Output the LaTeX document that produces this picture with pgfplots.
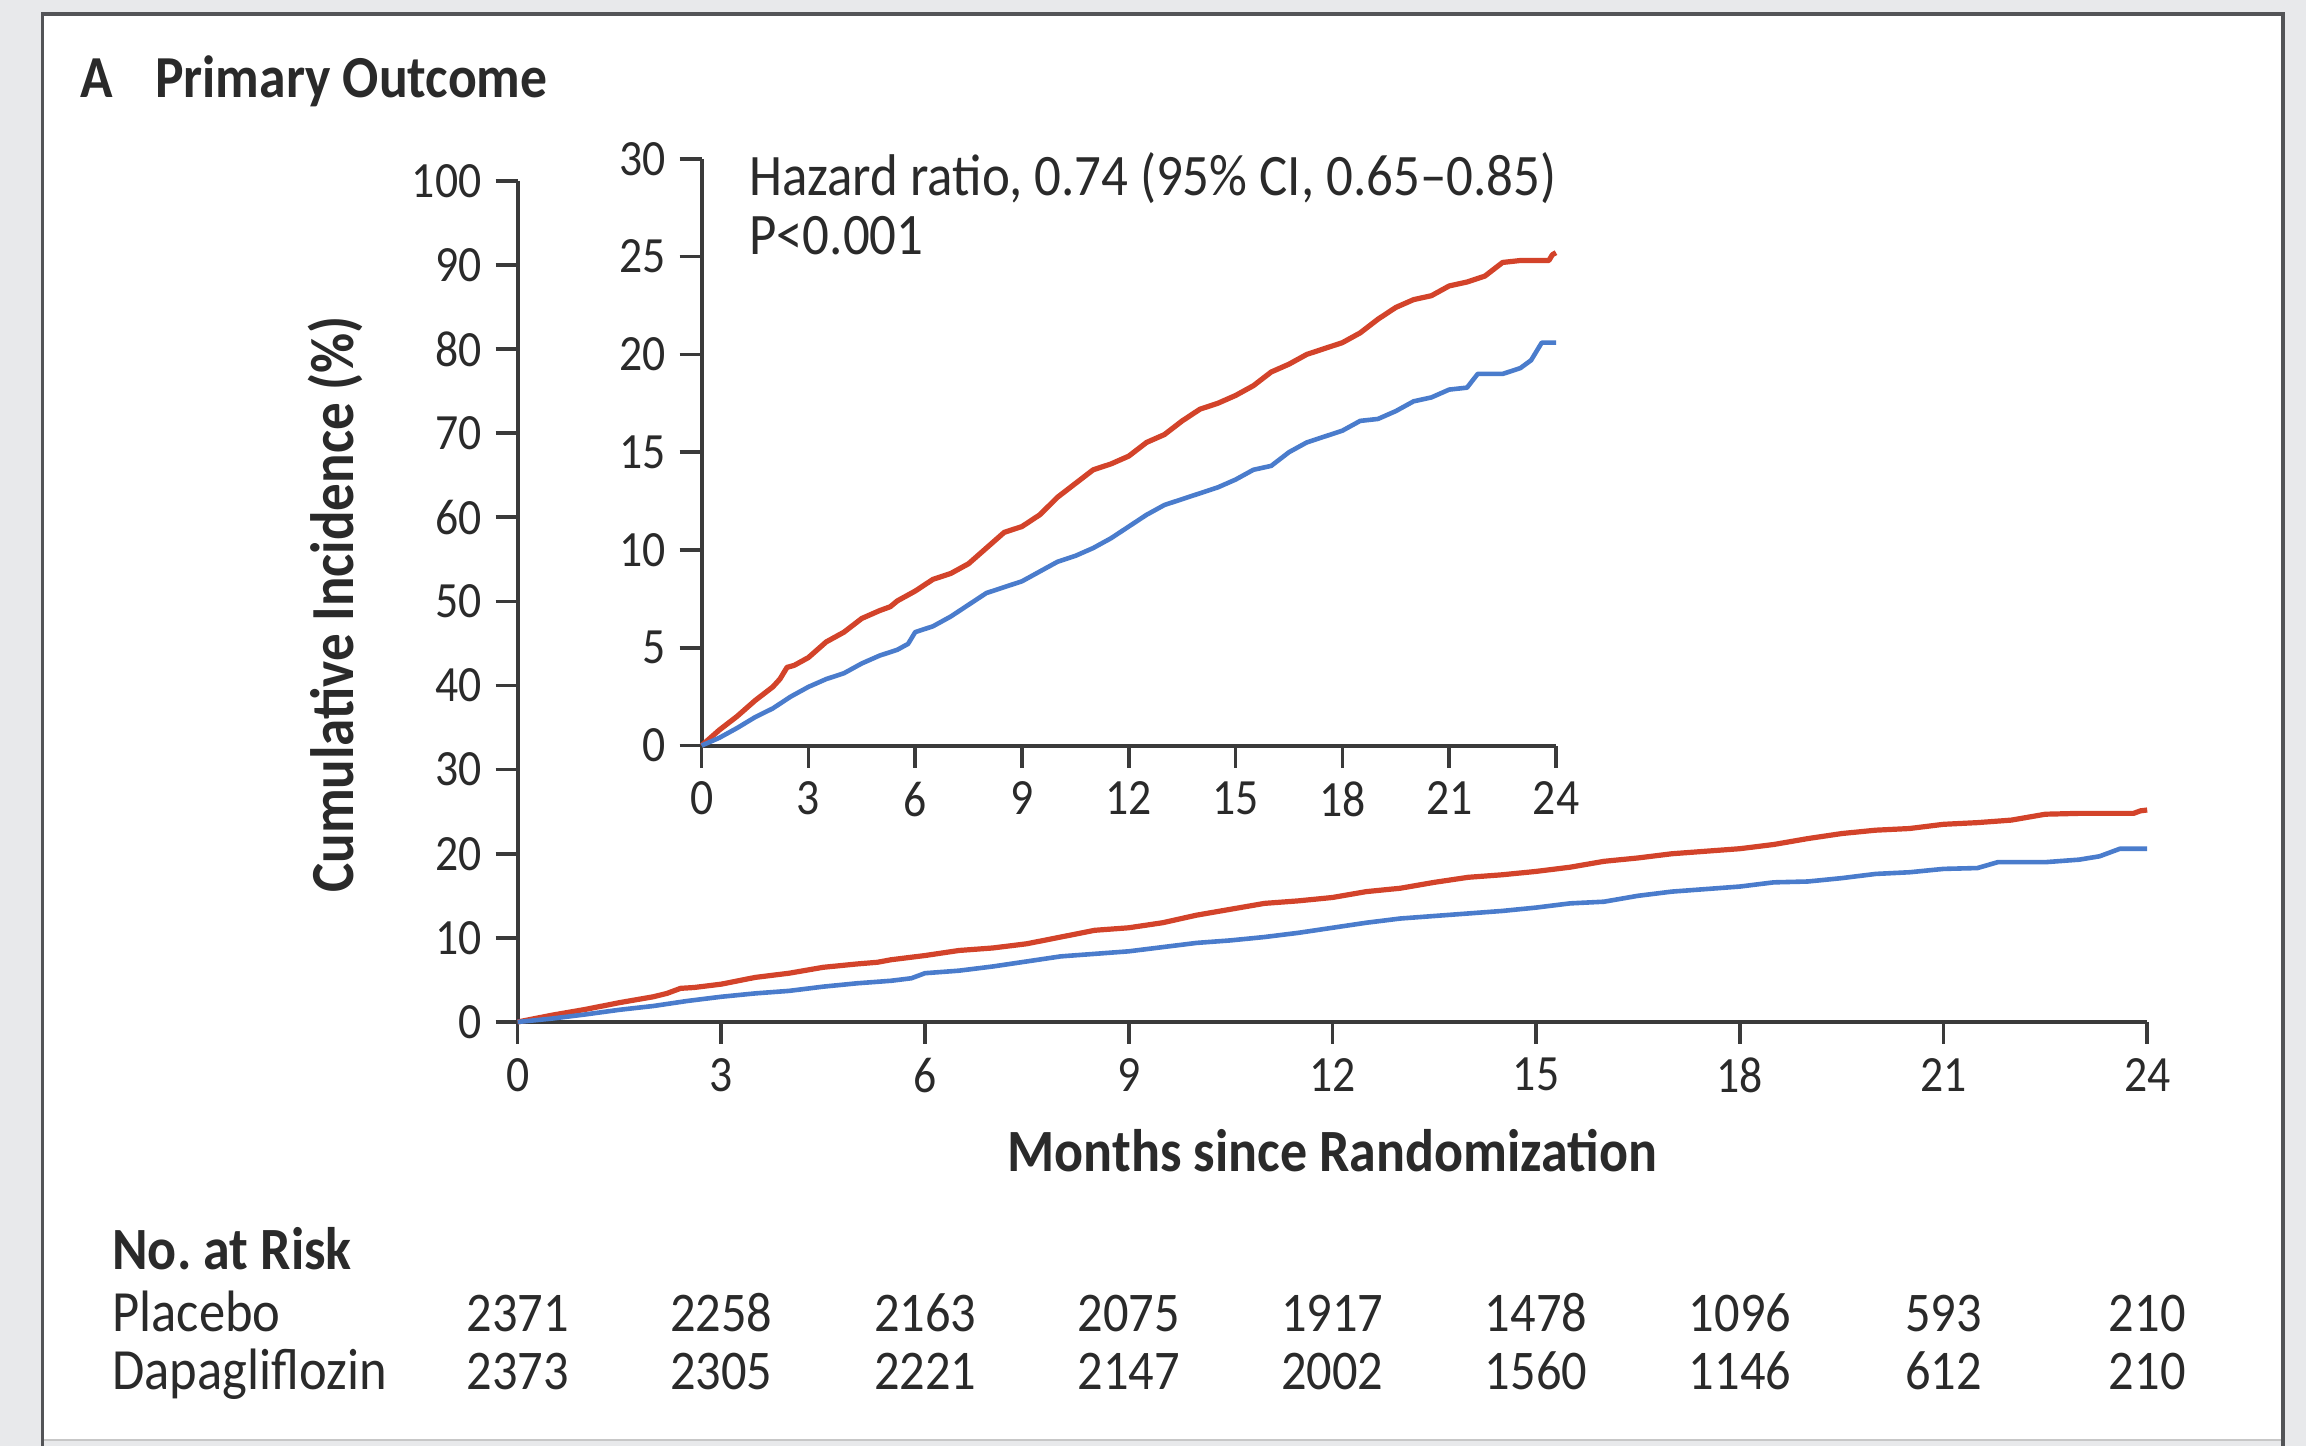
\documentclass[border=0pt]{standalone}
\usepackage{fontspec}
\setmainfont{Carlito}[FakeStretch=0.9]
\usepackage{pgfplots}
\usepackage{pgfplotstable}
\pgfplotsset{compat=1.18}
\definecolor{bgc}{HTML}{E8E9EB}
\definecolor{framec}{HTML}{535457}
\definecolor{axc}{HTML}{3A3A3A}
\definecolor{redc}{HTML}{D3432A}
\definecolor{bluec}{HTML}{4A7CCC}
\definecolor{txt}{HTML}{2A2A2A}

\pgfplotstableread{
m v
0 0
0.5 0.8
1 1.5
1.5 2.3
2 3.0
2.2 3.4
2.4 4.0
2.6 4.1
3 4.5
3.5 5.3
4 5.8
4.5 6.5
5 6.9
5.3 7.1
5.5 7.4
6 7.9
6.5 8.5
7 8.8
7.5 9.3
8 10.1
8.5 10.9
9 11.2
9.5 11.8
10 12.7
10.5 13.4
11 14.1
11.5 14.4
12 14.8
12.5 15.5
13 15.9
13.5 16.6
14 17.2
14.5 17.5
15 17.9
15.5 18.4
16 19.1
16.5 19.5
17 20.0
17.5 20.3
18 20.6
18.5 21.1
19 21.8
19.5 22.4
20 22.8
20.5 23.0
21 23.5
21.5 23.7
22 24.0
22.5 24.7
23 24.8
23.8 24.8
23.9 25.1
24 25.2
}\placebo

\pgfplotstableread{
m v
0 0
0.5 0.4
1 0.9
1.5 1.45
2 1.9
2.5 2.5
3 3.0
3.5 3.4
4 3.7
4.5 4.2
5 4.6
5.5 4.9
5.8 5.2
6 5.8
6.5 6.1
7 6.6
7.5 7.2
8 7.8
8.5 8.1
9 8.4
9.5 8.9
10 9.4
10.5 9.7
11 10.1
11.5 10.6
12 11.2
12.5 11.8
13 12.3
13.5 12.6
14 12.9
14.5 13.2
15 13.6
15.5 14.1
16 14.3
16.5 15.0
17 15.5
17.5 15.8
18 16.1
18.5 16.6
19 16.7
19.5 17.1
20 17.6
20.5 17.8
21 18.2
21.5 18.3
21.8 19.0
22.5 19.0
23 19.3
23.3 19.7
23.6 20.6
24 20.6
}\dapa

\pgfplotsset{
  kmaxis/.style={
    scale only axis,
    axis x line*=bottom, axis y line*=left,
    axis line style={axc, line width=1pt},
    tick align=outside,
    major tick length=5.5pt,
    tick style={axc, line width=0.9pt},
    ticklabel style={font=\fontsize{12.7}{14}\selectfont, text=txt},
    /pgf/number format/assume math mode=true,
    xmin=0, xmax=24, xtick={0,3,6,9,12,15,18,21,24},
    clip=false,
  },
  redline/.style={redc, line width=1.3pt, line join=round},
  blueline/.style={bluec, line width=1.15pt, line join=round},
}

\begin{document}
\begin{tikzpicture}[x=1pt,y=1pt]
\useasboundingbox (0,0) rectangle (576.5,361.5);
\fill[bgc] (0,0) rectangle (576.5,361.5);
\fill[white] (10.6,1.5) rectangle (570.8,358);
\draw[black!22, line width=0.6pt] (10.6,1.5) -- (570.8,1.5);
\draw[framec, line width=0.9pt] (10.6,0) -- (10.6,358) -- (570.8,358) -- (570.8,0);

% title
\node[anchor=base west, inner sep=0, font=\bfseries\fontsize{14.9}{16}\selectfont, text=txt] at (19.8,337.2) {A};
\node[anchor=base west, inner sep=0, font=\bfseries\fontsize{14.9}{16}\selectfont, text=txt] at (38.6,337.2) {Primary Outcome};

% main axis
\begin{axis}[kmaxis,
  at={(129.4pt,106pt)}, anchor=south west,
  width=407.4pt, height=210.3pt,
  ymin=0, ymax=100, ytick={0,10,20,30,40,50,60,70,80,90,100},
]
\addplot[redline] table[x=m,y=v] {\placebo};
\addplot[blueline] table[x=m,y=v] {\dapa};
\end{axis}

% inset axis
\begin{axis}[kmaxis,
  at={(175.4pt,175.1pt)}, anchor=south west,
  width=213.6pt, height=146.7pt,
  ymin=0, ymax=30, ytick={0,5,10,15,20,25,30},
]
\addplot[redline] table[x=m,y=v] {\placebo};
\addplot[blueline] table[x=m,y=v] {\dapa};
\end{axis}

% inset annotations
\node[anchor=base west, inner sep=0, font=\fontsize{14.7}{16}\selectfont, text=txt] at (187.1,312.6) {Hazard ratio, 0.74 (95\% CI, 0.65–0.85)};
\node[anchor=base west, inner sep=0, font=\fontsize{14.7}{16}\selectfont, text=txt] at (187.1,297.9) {P<0.001};

% axis labels
\node[rotate=90, inner sep=0, font=\bfseries\fontsize{15.3}{16}\selectfont, text=txt] at (83.8,210.4) {Cumulative Incidence (\%)};
\node[anchor=base, inner sep=0, font=\bfseries\fontsize{15}{16}\selectfont, text=txt] at (333.1,68.5) {Months since Randomization};

% risk table
\node[anchor=base west, inner sep=0, font=\bfseries\fontsize{15}{16}\selectfont, text=txt] at (27.9,44.2) {No.\ at Risk};
\node[anchor=base west, inner sep=0, font=\fontsize{14.6}{16}\selectfont, text=txt] at (27.9,28.7) {Placebo};
\node[anchor=base west, inner sep=0, font=\fontsize{14.6}{16}\selectfont, text=txt] at (27.9,14.0) {Dapagliflozin};
\foreach \xx/\p/\d in {129.4/2371/2373, 180.3/2258/2305, 231.3/2163/2221, 282.2/2075/2147, 333.1/1917/2002, 384.0/1478/1560, 435.0/1096/1146, 485.9/593/612, 536.8/210/210}{
  \node[anchor=base, inner sep=0, font=\fontsize{14}{16}\selectfont, text=txt] at (\xx,28.7) {\p};
  \node[anchor=base, inner sep=0, font=\fontsize{14}{16}\selectfont, text=txt] at (\xx,14.0) {\d};
}
\end{tikzpicture}
\end{document}
